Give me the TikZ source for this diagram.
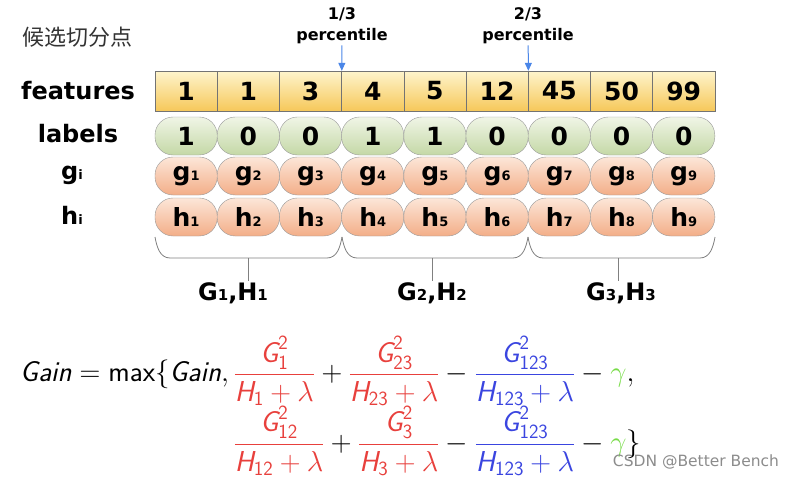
\RequirePackage{fix-cm}
\documentclass[tikz,border=0pt]{standalone}
\usepackage{amsmath}
\usepackage{fontspec}
\setmainfont{DejaVu Sans}
\setmathrm{Latin Modern Sans}
\newfontfamily\cjk{Noto Sans CJK SC}
\usepackage{tikz}
\usetikzlibrary{arrows.meta,positioning}
\definecolor{featTop}{HTML}{FEF4CC}
\definecolor{featBot}{HTML}{F6C85A}
\definecolor{lblTop}{HTML}{F0F5E6}
\definecolor{lblBot}{HTML}{C4D8A6}
\definecolor{grTop}{HTML}{FCE6D8}
\definecolor{grBot}{HTML}{F3AE88}
\definecolor{arrowblue}{HTML}{4A86E8}
\definecolor{gred}{HTML}{E8403C}
\definecolor{gblue}{HTML}{3A45E0}
\definecolor{ggreen}{HTML}{78DC48}
\newcommand{\sm}[1]{{\fontsize{13}{13}\selectfont #1}}
\newcommand{\smG}[1]{{\fontsize{15}{15}\selectfont #1}}
\newcommand{\si}[1]{\text{\sffamily\itshape #1}}
\newcommand{\sd}[1]{\text{\sffamily #1}}
\newcommand{\smax}{\operatorname{\sd{max}}}

\begin{document}
\begin{tikzpicture}[x=1pt, y=-1pt, >={Triangle[length=8pt,width=7pt]},
  featbox/.style={draw=black!55, top color=featTop, bottom color=featBot, minimum width=62.2pt, minimum height=40pt, inner sep=0pt, font=\fontsize{25}{28}\selectfont\bfseries},
  pill/.style={draw=black!40, rounded corners=18pt, minimum width=62.2pt, minimum height=38pt, inner sep=0pt, font=\fontsize{25}{28}\selectfont\bfseries},
  lblbox/.style={pill, top color=lblTop, bottom color=lblBot},
  gradbox/.style={pill, top color=grTop, bottom color=grBot},
  rowname/.style={font=\fontsize{24}{28}\selectfont\bfseries},
  pct/.style={align=center, inner sep=1pt, font=\fontsize{16}{21}\selectfont\bfseries},
  brace/.style={draw=black!50, line width=0.8pt},
  ghlabel/.style={inner sep=1pt, font=\fontsize{24}{28}\selectfont\bfseries}]
\path[fill=white, use as bounding box] (0,0) rectangle (795,477);

\node[font=\cjk\fontsize{22}{26}\selectfont, text=black!80] (title) at (78,37) {候选切分点};

\node[rowname] (features) at (78,91) {features};
\node[rowname] (labels) at (78,134) {labels};
\node[rowname] (gi) at (72,175) {g\sm{i}};
\node[rowname] (hi) at (72,215) {h\sm{i}};

\foreach \v [count=\i] in {1,1,3,4,5,12,45,50,99}
  \node[featbox] (f\i) at (123.9+62.2*\i,91) {\v};
\foreach \v [count=\i] in {1,0,0,1,1,0,0,0,0}
  \node[lblbox] (l\i) at (123.9+62.2*\i,136) {\v};
\foreach \i in {1,...,9} {
  \node[gradbox] (g\i) at (123.9+62.2*\i,176) {g\sm{\i}};
  \node[gradbox] (h\i) at (123.9+62.2*\i,217) {h\sm{\i}};
}

% percentile marks
\node[pct] (p1) at (342,26) {1/3\\percentile};
\node[pct] (p2) at (528,26) {2/3\\percentile};
\draw[->, arrowblue, line width=1pt] (p1) -- (f3.north east);
\draw[->, arrowblue, line width=1pt] (p2) -- (f6.north east);

% braces
\draw[brace] (155,237) to[out=-80,in=180] (170,258) -- (327,258) to[out=0,in=-100] (342,237);
\draw[brace] (342,237) to[out=-80,in=180] (357,258) -- (513,258) to[out=0,in=-100] (528,237);
\draw[brace] (528,237) to[out=-80,in=180] (543,258) -- (700,258) to[out=0,in=-100] (715,237);
\coordinate (b1) at (248,258);
\coordinate (b2) at (432,258);
\coordinate (b3) at (618,258);
\node[ghlabel] (G1) at (233,293) {G\smG{1},H\smG{1}};
\node[ghlabel] (G2) at (432,293) {G\smG{2},H\smG{2}};
\node[ghlabel] (G3) at (621,293) {G\smG{3},H\smG{3}};
\foreach \k in {1,2,3}
  \draw[brace] (b\k) -- (b\k |- G\k.north);

% gain formula
\node[anchor=west, inner sep=0pt, font=\fontsize{28.8}{34}\selectfont] (gain) at (20,406) {$\begin{aligned}
\si{Gain}=\smax\{\si{Gain},\, & \textcolor{gred}{\frac{\si{G}_{\sd{1}}^{\sd{2}}}{\si{H}_{\sd{1}}+\lambda}}+\textcolor{gred}{\frac{\si{G}_{\sd{23}}^{\sd{2}}}{\si{H}_{\sd{23}}+\lambda}}-\textcolor{gblue}{\frac{\si{G}_{\sd{123}}^{\sd{2}}}{\si{H}_{\sd{123}}+\lambda}}-\textcolor{ggreen}{\gamma},\\[-4pt]
& \textcolor{gred}{\frac{\si{G}_{\sd{12}}^{\sd{2}}}{\si{H}_{\sd{12}}+\lambda}}+\textcolor{gred}{\frac{\si{G}_{\sd{3}}^{\sd{2}}}{\si{H}_{\sd{3}}+\lambda}}-\textcolor{gblue}{\frac{\si{G}_{\sd{123}}^{\sd{2}}}{\si{H}_{\sd{123}}+\lambda}}-\textcolor{ggreen}{\gamma}\}
\end{aligned}$};

\node[font=\fontsize{15.5}{18}\selectfont, text=black!45] (mark) at (696,462) {CSDN @Better Bench};
\end{tikzpicture}
\end{document}
